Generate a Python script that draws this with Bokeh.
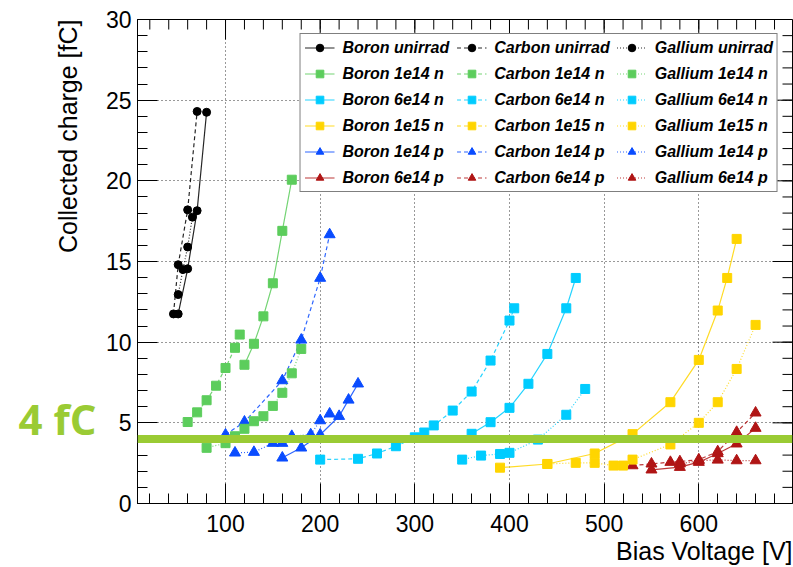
import math
from bokeh.plotting import figure
from bokeh.layouts import row
from bokeh.models import (Range1d, FixedTicker, Legend, LegendItem,
                          Span, Label, Title)
from bokeh.embed import file_html
from bokeh.resources import INLINE

# ---------------- data (Bias voltage [V], collected charge [fC]) ----------------
boron_unirrad_v = [50, 60, 70, 80]
boron_unirrad_q = [11.75, 14.55, 18.15, 24.25]
carbon_unirrad_v = [45, 50, 60, 70]
carbon_unirrad_q = [11.75, 14.8, 18.2, 24.3]
gallium_unirrad_v = [50, 55, 60, 65]
gallium_unirrad_q = [12.95, 14.5, 15.9, 17.75]

boron_1e14n_v = [120, 130, 140, 150, 160, 170]
boron_1e14n_q = [8.6, 9.9, 11.6, 13.65, 16.9, 20.07]
carbon_1e14n_v = [60, 70, 80, 90, 100, 110, 115]
carbon_1e14n_q = [5.05, 5.65, 6.4, 7.3, 8.4, 9.65, 10.47]
gallium_1e14n_v = [80, 100, 110, 120, 130, 140, 150, 160, 170, 180]
gallium_1e14n_q = [3.45, 3.74, 4.17, 4.63, 5.1, 5.41, 6.05, 6.86, 8.07, 9.58]

boron_6e14n_v = [360, 380, 400, 420, 440, 460, 470]
boron_6e14n_q = [4.32, 5.04, 5.93, 7.42, 9.27, 12.1, 13.98]
carbon_6e14n_v = [200, 240, 260, 280, 300, 310, 320, 340, 360, 380, 400, 405]
carbon_6e14n_q = [2.72, 2.77, 3.1, 3.55, 4.1, 4.4, 4.84, 5.76, 6.94, 8.86, 11.34, 12.1]
gallium_6e14n_v = [350, 370, 390, 400, 430, 460, 480]
gallium_6e14n_q = [2.72, 2.97, 3.07, 3.14, 3.96, 5.5, 7.1]

boron_1e15n_v = [390, 440, 490, 530, 570, 600, 620, 630, 640]
boron_1e15n_q = [2.22, 2.45, 3.1, 4.3, 6.28, 8.9, 11.96, 13.98, 16.4]
carbon_1e15n_v = []
carbon_1e15n_q = []
gallium_1e15n_v = [440, 470, 490, 510, 520, 530, 570, 600, 620, 640, 660]
gallium_1e15n_q = [2.45, 2.52, 2.52, 2.35, 2.35, 2.72, 3.66, 5.0, 6.28, 8.34, 11.07]

boron_1e14p_v = [160, 180, 200, 220, 230, 240]
boron_1e14p_q = [2.83, 3.45, 4.26, 5.41, 6.42, 7.42]
carbon_1e14p_v = [100, 120, 160, 180, 200, 210]
carbon_1e14p_q = [4.26, 5.06, 7.62, 10.14, 13.97, 16.67]
gallium_1e14p_v = [110, 130, 150, 160, 170, 190, 200, 210]
gallium_1e14p_q = [3.14, 3.18, 3.74, 3.74, 4.17, 4.27, 5.14, 5.56]

boron_6e14p_v = [550, 580, 600, 620, 640, 660]
boron_6e14p_q = [2.09, 2.25, 2.56, 3.1, 3.7, 4.67]
carbon_6e14p_v = [530, 550, 570, 580, 600, 620, 640, 660]
carbon_6e14p_q = [2.35, 2.46, 2.56, 2.6, 2.72, 3.22, 4.42, 5.62]
gallium_6e14p_v = [580, 600, 620, 640, 660]
gallium_6e14p_q = [2.46, 2.66, 2.7, 2.66, 2.66]

threshold_fc = 4
x_major = [100, 200, 300, 400, 500, 600]
x_minor = list(range(20, 700, 20))
y_major = [0, 5, 10, 15, 20, 25, 30]
y_minor = list(range(0, 31))

# ---------------- styles ----------------
materials = [("Boron", "solid"), ("Carbon", "4 3"), ("Gallium", "1 2")]
fluences = [
    ("unirrad", "#000000", "circle", 8),
    ("1e14 n", "#5ccd5c", "square", 9),
    ("6e14 n", "#00ccff", "square", 9),
    ("1e15 n", "#ffd500", "square", 9),
    ("1e14 p", "#0a4cff", "triangle", 11),
    ("6e14 p", "#b01515", "triangle", 11),
]
data = {
    ("Boron", "unirrad"): (boron_unirrad_v, boron_unirrad_q),
    ("Carbon", "unirrad"): (carbon_unirrad_v, carbon_unirrad_q),
    ("Gallium", "unirrad"): (gallium_unirrad_v, gallium_unirrad_q),
    ("Boron", "1e14 n"): (boron_1e14n_v, boron_1e14n_q),
    ("Carbon", "1e14 n"): (carbon_1e14n_v, carbon_1e14n_q),
    ("Gallium", "1e14 n"): (gallium_1e14n_v, gallium_1e14n_q),
    ("Boron", "6e14 n"): (boron_6e14n_v, boron_6e14n_q),
    ("Carbon", "6e14 n"): (carbon_6e14n_v, carbon_6e14n_q),
    ("Gallium", "6e14 n"): (gallium_6e14n_v, gallium_6e14n_q),
    ("Boron", "1e15 n"): (boron_1e15n_v, boron_1e15n_q),
    ("Carbon", "1e15 n"): (carbon_1e15n_v, carbon_1e15n_q),
    ("Gallium", "1e15 n"): (gallium_1e15n_v, gallium_1e15n_q),
    ("Boron", "1e14 p"): (boron_1e14p_v, boron_1e14p_q),
    ("Carbon", "1e14 p"): (carbon_1e14p_v, carbon_1e14p_q),
    ("Gallium", "1e14 p"): (gallium_1e14p_v, gallium_1e14p_q),
    ("Boron", "6e14 p"): (boron_6e14p_v, boron_6e14p_q),
    ("Carbon", "6e14 p"): (carbon_6e14p_v, carbon_6e14p_q),
    ("Gallium", "6e14 p"): (gallium_6e14p_v, gallium_6e14p_q),
}

FONT = "Liberation Sans"
H = 567
SIDE_W = 100               # left strip holding the free texts
MAIN_W = 793 - SIDE_W
FT, FB = 19, 503           # frame top / bottom in canvas pixels
X0, X1 = 7, 699
Y0, Y1 = 0, 30

p = figure(width=MAIN_W, height=H, output_backend="svg", toolbar_location=None,
           x_range=Range1d(X0, X1), y_range=Range1d(Y0, Y1),
           min_border_left=37, min_border_right=1, min_border_top=FT,
           min_border_bottom=H - FB)
p.background_fill_color = "white"
p.border_fill_color = "white"
p.outline_line_color = "black"
p.outline_line_width = 1

for ax in (p.xaxis[0], p.yaxis[0]):
    ax.axis_line_color = "black"
    ax.major_tick_in = 20
    ax.major_tick_out = 0
    ax.minor_tick_in = 10
    ax.minor_tick_out = 0
    ax.major_tick_line_color = "black"
    ax.minor_tick_line_color = "black"
    ax.major_label_text_font = FONT
    ax.major_label_text_font_size = "23px"
    ax.major_label_text_color = "black"
p.xaxis.ticker = FixedTicker(ticks=x_major, minor_ticks=x_minor)
p.yaxis.ticker = FixedTicker(ticks=y_major, minor_ticks=y_minor)
p.xaxis.major_label_standoff = 11
p.yaxis.major_label_standoff = 6

p.xgrid.grid_line_color = "black"
p.ygrid.grid_line_color = "black"
p.xgrid.grid_line_dash = "1 3"
p.ygrid.grid_line_dash = "1 3"
p.xgrid.grid_line_alpha = 0.8
p.ygrid.grid_line_alpha = 0.8

# ROOT-style tick marks on the top and right frame edges (screen-length rays)
p.ray(x=x_major, y=[Y1] * len(x_major), length=20, length_units="screen",
      angle=-math.pi / 2, line_color="black", line_width=1)
p.ray(x=x_minor, y=[Y1] * len(x_minor), length=10, length_units="screen",
      angle=-math.pi / 2, line_color="black", line_width=1)
p.ray(x=[X1] * len(y_major), y=y_major, length=20, length_units="screen",
      angle=math.pi, line_color="black", line_width=1)
p.ray(x=[X1] * len(y_minor), y=y_minor, length=10, length_units="screen",
      angle=math.pi, line_color="black", line_width=1)

items = []
for mat, dash in materials:
    for flu, color, marker, size in fluences:
        v, q = data[(mat, flu)]
        if not v:            # series without measured points: keep legend entry
            v, q = [float("nan")], [float("nan")]
        ln = p.line(v, q, line_color=color, line_width=1.2, line_dash=dash,
                    line_alpha=0.85)
        sc = p.scatter(v, q, marker=marker, size=size, fill_color=color,
                       line_color=color, line_width=1)
        items.append(LegendItem(label=f"{mat} {flu}", renderers=[ln, sc]))

legend = Legend(items=items, ncols=3, location="top_right", margin=14,
                label_text_font=FONT, label_text_font_style="bold italic",
                label_text_font_size="16px", label_text_color="black",
                glyph_width=30, glyph_height=19, label_height=19,
                label_standoff=8, spacing=7, padding=4,
                border_line_color="black", border_line_width=1,
                background_fill_color="white", background_fill_alpha=1.0)
p.add_layout(legend, "center")

# 4 fC threshold line
p.add_layout(Span(location=threshold_fc, dimension="width",
                  line_color="#9acb34", line_width=8))

p.add_layout(Title(text="Bias Voltage [V]", align="right", text_font=FONT,
                   text_font_size="25px", text_font_style="normal",
                   text_color="black", standoff=0, offset=0), "below")

# left strip: y-axis title and the "4 fC" tag (shares the y scale)
side = figure(width=SIDE_W, height=H, output_backend="svg", toolbar_location=None,
              x_range=Range1d(0, SIDE_W), y_range=p.y_range,
              x_axis_type=None, y_axis_type=None,
              min_border_left=0, min_border_right=0, min_border_top=FT,
              min_border_bottom=H - FB)
side.outline_line_color = None
side.background_fill_color = "white"
side.border_fill_color = "white"

side.add_layout(Label(x=57, y=5.25, text="4 fC", text_font="Open Sans",
                      text_font_style="bold", text_font_size="42px",
                      text_color="#9acb34", text_align="center",
                      text_baseline="alphabetic"))
side.add_layout(Label(x=67, y=Y1, text="Collected charge [fC]", angle=math.pi / 2,
                      text_font=FONT, text_font_size="25px", text_color="black",
                      text_align="right", text_baseline="middle"))

layout = row(side, p, spacing=0)
open("out.html", "w").write(file_html(layout, INLINE))
